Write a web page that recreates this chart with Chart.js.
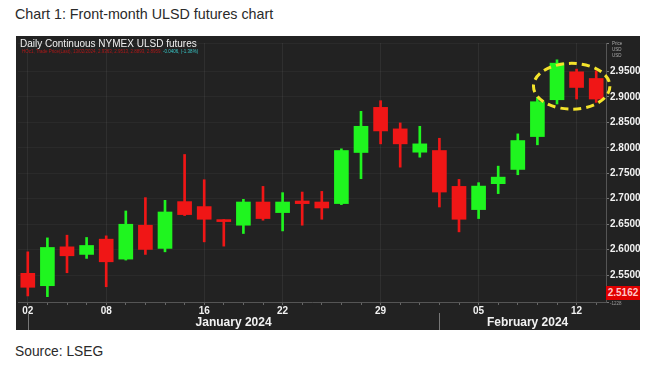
<!DOCTYPE html>
<html lang="en">
<head>
  <meta charset="UTF-8">
  <title>Front-month ULSD futures chart</title>
  <script src="https://cdn.jsdelivr.net/npm/chart.js"></script>
  <style>
    * { margin:0; padding:0; box-sizing:border-box; }
    html,body { width:661px; height:365px; overflow:hidden; background:#fff; font-family:'Liberation Sans',Arial,sans-serif; }
    #title { position:absolute; left:15px; top:6px; font-size:14.3px; color:#2a2a2a; }
    #src { position:absolute; left:15px; top:344px; font-size:13.8px; color:#2a2a2a; }
    #panel { position:absolute; left:16px; top:36px; width:624px; height:294px; background:#222; }
    #panel canvas { position:absolute; left:0; top:0; }
    #hdr { position:absolute; left:4px; top:2px; font-size:10px; color:#f0f0f0; }
    #leg { position:absolute; left:6px; top:13px; font-size:4.5px; color:#b01818; white-space:nowrap; }
    #leg span { color:#39c6c6; }
    #unit { position:absolute; left:596px; top:5px; font-size:4.5px; line-height:6px; color:#aaa; }
    #last { position:absolute; left:590px; top:250px; width:34px; height:14px; background:#e00000;
            color:#ffc8c8; font-size:10px; font-weight:bold; text-align:center; line-height:14px; }
    #vol { position:absolute; left:594px; top:265px; font-size:4.5px; color:#999; }
  </style>
</head>
<body>
  <div id="title">Chart 1: Front-month ULSD futures chart</div>

  <div id="panel">
    <canvas id="chart" width="624" height="294"></canvas>
    <div id="hdr">Daily Continuous NYMEX ULSD futures</div>
    <div id="leg">HOc1, Trade Price(Last), 13/02/2024, 2.9363, 2.9513, 2.8893, 2.8959, <span>-0.0406, (-1.38%)</span></div>
    <div id="unit">Price<br>USD<br>USD</div>
    <div id="last">2.5162</div>
    <div id="vol">-1228</div>
  </div>

  <div id="src">Source: LSEG</div>

  <script>
    // trading days shown on the chart
    const dates = ['2024-01-02','2024-01-03','2024-01-04','2024-01-05','2024-01-08','2024-01-09','2024-01-10',
      '2024-01-11','2024-01-12','2024-01-16','2024-01-17','2024-01-18','2024-01-19','2024-01-22','2024-01-23',
      '2024-01-24','2024-01-25','2024-01-26','2024-01-29','2024-01-30','2024-01-31','2024-02-01','2024-02-02',
      '2024-02-05','2024-02-06','2024-02-07','2024-02-08','2024-02-09','2024-02-12','2024-02-13'];

    const opens  = [2.5533, 2.5290, 2.6054, 2.5905, 2.6205, 2.5813, 2.6479, 2.6023, 2.6943, 2.6845,
                    2.6577, 2.6479, 2.6935, 2.6727, 2.6955, 2.6935, 2.6904, 2.7908, 2.8795, 2.8372,
                    2.7914, 2.7947, 2.7242, 2.6786, 2.7295, 2.7575, 2.8221, 2.8945, 2.9494, 2.9363];
    const highs  = [2.5956, 2.6230, 2.6283, 2.6238, 2.6270, 2.6759, 2.7021, 2.6968, 2.7869, 2.7373,
                    2.6590, 2.6988, 2.7242, 2.7119, 2.7131, 2.7144, 2.7980, 2.8717, 2.8926, 2.8489,
                    2.8423, 2.8188, 2.7379, 2.7315, 2.7640, 2.8274, 2.8991, 2.9729, 2.9547, 2.9513];
    const lows   = [2.5089, 2.5075, 2.5545, 2.5827, 2.5270, 2.5794, 2.5905, 2.5956, 2.6669, 2.6152,
                    2.6068, 2.6316, 2.6577, 2.6367, 2.6479, 2.6596, 2.6884, 2.7393, 2.8078, 2.7620,
                    2.7816, 2.6837, 2.6348, 2.6610, 2.7100, 2.7471, 2.8059, 2.8861, 2.8959, 2.8893];
    const closes = [2.5259, 2.6042, 2.5878, 2.6081, 2.5760, 2.6498, 2.6003, 2.6739, 2.6688, 2.6596,
                    2.6550, 2.6935, 2.6610, 2.6935, 2.6903, 2.6818, 2.7947, 2.8423, 2.8332, 2.8078,
                    2.8078, 2.7131, 2.6596, 2.7248, 2.7424, 2.8143, 2.8906, 2.9664, 2.9186, 2.8959];

    // axis labels
    const tickDates = ['2024-01-02','2024-01-08','2024-01-16','2024-01-22','2024-01-29','2024-02-05','2024-02-12'];
    const months = [{ name:'January 2024', from:'2024-01-02', to:'2024-01-31' },
                    { name:'February 2024', from:'2024-02-01', to:'2024-02-13' }];
    const yMin = 2.497, yMax = 3.006, yStep = 0.05;

    const UP = '#1ff51f', DOWN = '#f01616';
    const colors = closes.map((c, i) => c >= opens[i] ? UP : DOWN);

    Chart.defaults.font.family = "'Liberation Sans', Arial, sans-serif";

    // month names, month separators and the yellow dashed ring
    const extras = {
      id: 'extras',
      afterDraw(chart) {
        const ctx = chart.ctx, x = chart.scales.x, y = chart.scales.y;
        ctx.save();
        ctx.fillStyle = '#f2f2f2';
        ctx.font = "bold 12px 'Liberation Sans', Arial, sans-serif";
        ctx.textAlign = 'center';
        ctx.textBaseline = 'middle';
        months.forEach(m => {
          const a = dates.indexOf(m.from), b = dates.indexOf(m.to);
          ctx.fillText(m.name, x.getPixelForValue((a + b) / 2 + 0.5), 287);
          ctx.strokeStyle = '#777';
          ctx.lineWidth = 1;
          const px = Math.round(x.getPixelForValue(a)) + 0.5;
          ctx.beginPath(); ctx.moveTo(px, 277); ctx.lineTo(px, 294); ctx.stroke();
        });
        // highlight ring round the last three sessions
        const cx = x.getPixelForValue(27.75), cy = y.getPixelForValue(2.921);
        const rx = x.getPixelForValue(29.7) - x.getPixelForValue(27.75);
        const ry = y.getPixelForValue(2.921) - y.getPixelForValue(2.966);
        ctx.strokeStyle = '#f3e32b';
        ctx.lineWidth = 3;
        ctx.setLineDash([8, 5]);
        ctx.beginPath(); ctx.ellipse(cx, cy, rx, ry, 0, 0, Math.PI * 2); ctx.stroke();
        ctx.restore();
      }
    };

    new Chart(document.getElementById('chart'), {
      type: 'bar',
      data: {
        labels: dates,
        datasets: [
          { // wicks
            data: lows.map((l, i) => [l, highs[i]]),
            backgroundColor: colors, barThickness: 2, grouped: false, order: 2
          },
          { // bodies
            data: opens.map((o, i) => [o, closes[i]]),
            backgroundColor: colors, barThickness: 14, minBarLength: 2, grouped: false, order: 1
          }
        ]
      },
      options: {
        responsive: false,
        animation: false,
        layout: { padding: { left: 2, top: 6, right: 0, bottom: 0 } },
        plugins: { legend: { display: false }, tooltip: { enabled: false } },
        scales: {
          x: {
            offset: true,
            border: { color: '#555' },
            grid: {
              offset: false,
              color: c => tickDates.includes(dates[c.index]) ? 'rgba(255,255,255,0.06)' : 'transparent',
              tickColor: '#666', tickLength: 3
            },
            ticks: {
              autoSkip: false, maxRotation: 0, padding: 0,
              color: '#f2f2f2', font: { size: 10, weight: 'bold' },
              callback: function (v, i) { return tickDates.includes(dates[i]) ? dates[i].slice(8) : ''; }
            },
            afterFit: s => { s.height = 28; }
          },
          y: {
            position: 'right',
            min: yMin, max: yMax,
            border: { color: '#555' },
            grid: { color: 'rgba(255,255,255,0.04)', tickColor: '#777', tickLength: 3 },
            ticks: {
              stepSize: yStep, padding: 1,
              color: '#f2f2f2', font: { size: 10, weight: 'bold' },
              callback: v => {
                const r = Math.round(v / yStep);
                if (Math.abs(v / yStep - r) > 1e-6 || v < 2.52 || v > 2.98) return '';
                return v.toFixed(4);
              }
            },
            afterFit: s => { s.width = 34; }
          }
        }
      },
      plugins: [extras]
    });
  </script>
</body>
</html>
